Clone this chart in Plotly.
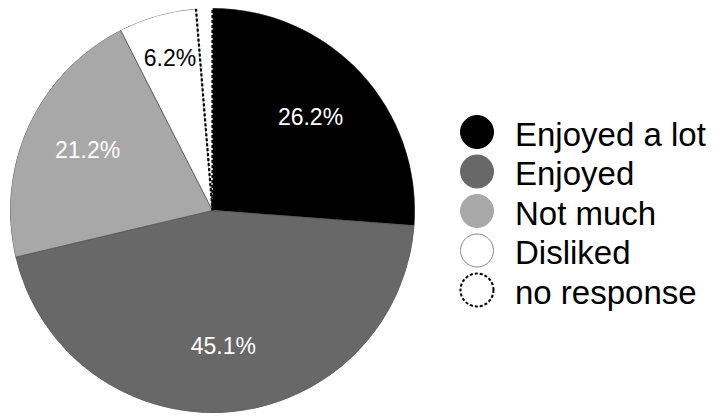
import numpy as np
import plotly.graph_objects as go

# ---- data ----
categories = ["Enjoyed a lot", "Enjoyed", "Not much", "Disliked", "no response"]
values = [26.2, 45.1, 21.2, 6.2, 1.3]
slice_labels = ["26.2%", "45.1%", "21.2%", "6.2%", ""]

# ---- styles ----
fill_colors = ["#000000", "#686868", "#a8a8a8", "#ffffff", "#ffffff"]
label_colors = ["white", "white", "white", "black", "black"]
label_radius = [0.66, 0.68, 0.68, 0.77, 0.0]
FONT = "Liberation Sans, Arial, Helvetica, sans-serif"

vals = np.array(values, dtype=float)
frac = vals / vals.sum() * 360.0
ends = np.cumsum(frac)
starts = ends - frac
mids = starts + frac / 2

fig = go.Figure()

# slices
fig.add_trace(go.Barpolar(
    r=[1] * len(values), theta=mids, width=frac,
    marker=dict(color=fill_colors, line=dict(color="#555555", width=[0.8, 0.8, 0.8, 0.8, 0])),
    showlegend=False, hoverinfo="skip",
))

# dashed outline of the "no response" slice
nr = len(values) - 1
fig.add_trace(go.Scatterpolar(
    r=[1, 0, 1], theta=[starts[nr], starts[nr], ends[nr]],
    mode="lines", line=dict(color="black", width=2.2, dash="3px,2px"),
    showlegend=False, hoverinfo="skip",
))

# slice labels
fig.add_trace(go.Scatterpolar(
    r=label_radius, theta=mids, mode="text", text=slice_labels,
    textfont=dict(family=FONT, size=23, color=label_colors),
    textposition="middle center", showlegend=False, hoverinfo="skip",
))

# page body adds an 8px offset; figure coordinates below are page coords minus 8
OFF = 8
W, H = 714, 416
x0, x1, yt, yb = 9 - OFF, 416 - OFF, 8 - OFF, 413 - OFF
fig.update_layout(
    width=W, height=H,
    margin=dict(l=0, r=0, t=0, b=0),
    paper_bgcolor="white", plot_bgcolor="white",
    polar=dict(
        domain=dict(x=[x0 / W, x1 / W], y=[(H - yb) / H, (H - yt) / H]),
        bgcolor="rgba(0,0,0,0)", bargap=0, hole=0,
        radialaxis=dict(visible=False, range=[0, 1]),
        angularaxis=dict(visible=False, rotation=90, direction="clockwise"),
    ),
    font=dict(family=FONT),
)

# custom legend with large circles
leg_cx, leg_y0, leg_dy, leg_rad, leg_tx = 477 - OFF, 132 - OFF, 39.5, 16.5, 513 - OFF
shapes, annots = [], []
for i, (name, col) in enumerate(zip(categories, fill_colors)):
    cy = leg_y0 + i * leg_dy
    dashed = (i == len(categories) - 1)
    shapes.append(dict(
        type="circle", xref="paper", yref="paper",
        xsizemode="pixel", ysizemode="pixel",
        xanchor=leg_cx / W, yanchor=1 - cy / H,
        x0=-leg_rad, x1=leg_rad, y0=-leg_rad, y1=leg_rad,
        fillcolor=col,
        line=dict(color="black" if dashed else ("#888888" if col == "#ffffff" else col),
                  width=2 if dashed else 1, dash="3px,2px" if dashed else "solid"),
    ))
    annots.append(dict(
        x=leg_tx / W, y=1 - (cy + 2) / H, xref="paper", yref="paper",
        xanchor="left", yanchor="middle", showarrow=False, text=name,
        font=dict(family=FONT, size=33, color="black"),
    ))
fig.update_layout(shapes=shapes, annotations=annots)

fig.write_html("out.html")
